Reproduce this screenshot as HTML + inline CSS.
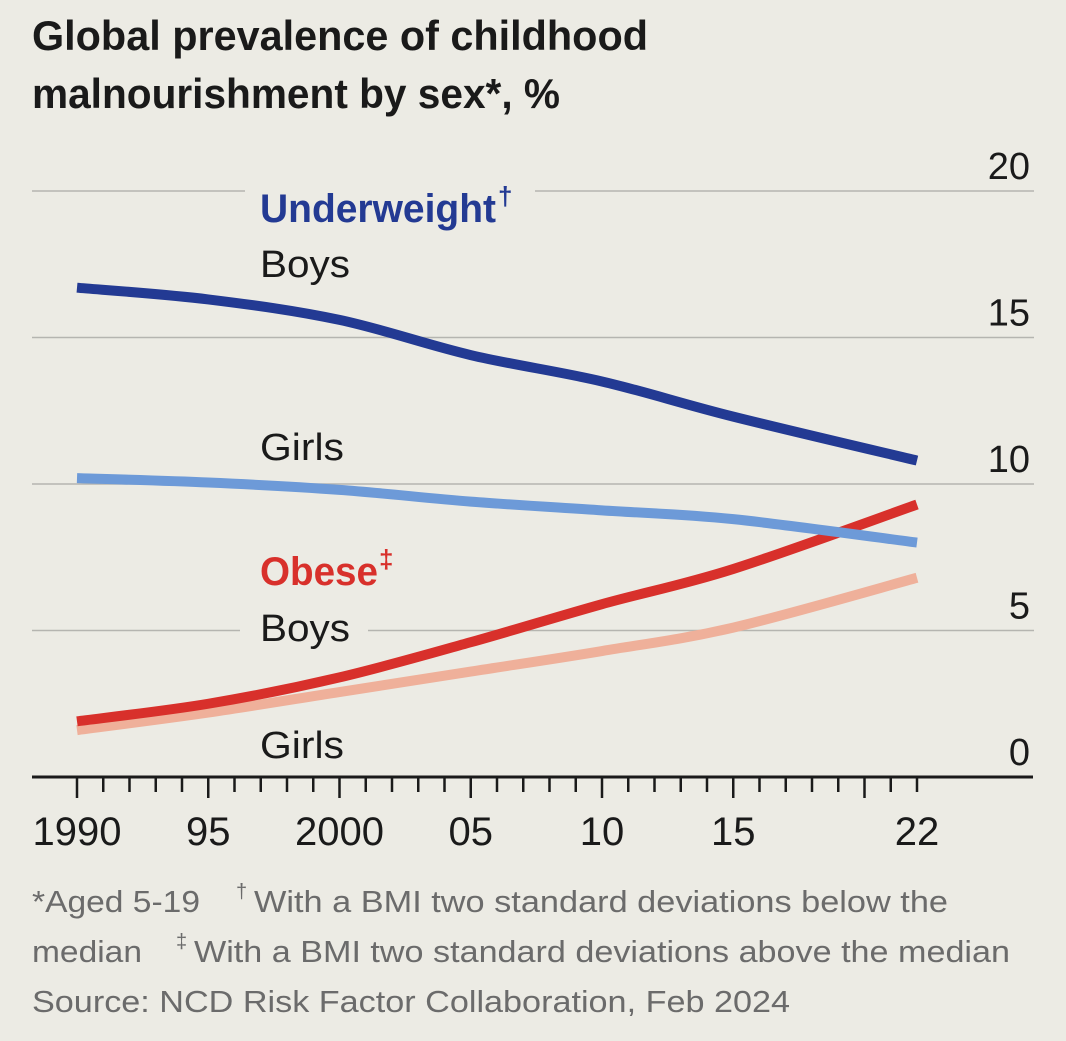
<!DOCTYPE html>
<html><head><meta charset="utf-8"><style>
html,body{margin:0;padding:0;background:#ecebe4}
svg{display:block}
text{font-family:"Liberation Sans Narrow","Liberation Sans",sans-serif}
</style></head><body>
<svg id="chart" width="1066" height="1041" viewBox="0 0 1066 1041">
<rect width="1066" height="1041" fill="#ecebe4"/>
<text x="32" y="50" font-size="42" font-weight="bold" fill="#1a1a1a" textLength="616" lengthAdjust="spacingAndGlyphs">Global prevalence of childhood</text>
<text x="32" y="108" font-size="42" font-weight="bold" fill="#1a1a1a" textLength="528" lengthAdjust="spacingAndGlyphs">malnourishment by sex*, %</text>
<g id="grid"></g>
<g id="xaxis"></g>
<g id="lines"></g>
<g id="labels">
<rect x="245" y="175" width="290" height="30" fill="#ecebe4"/>
<rect x="240" y="610" width="128" height="40" fill="#ecebe4"/>
<text x="260" y="222" font-size="40" font-weight="bold" fill="#233a93" textLength="236" lengthAdjust="spacingAndGlyphs">Underweight</text>
<text x="498" y="205" font-size="26" font-weight="bold" fill="#233a93">†</text>
<text x="260" y="277" font-size="38" fill="#1a1a1a" textLength="90" lengthAdjust="spacingAndGlyphs">Boys</text>
<text x="260" y="460" font-size="38" fill="#1a1a1a" textLength="84" lengthAdjust="spacingAndGlyphs">Girls</text>
<text x="260" y="585" font-size="40" font-weight="bold" fill="#d8302b" textLength="118" lengthAdjust="spacingAndGlyphs">Obese</text>
<text x="379" y="568" font-size="26" font-weight="bold" fill="#d8302b">‡</text>
<text x="260" y="641" font-size="38" fill="#1a1a1a" textLength="90" lengthAdjust="spacingAndGlyphs">Boys</text>
<text x="260" y="758" font-size="38" fill="#1a1a1a" textLength="84" lengthAdjust="spacingAndGlyphs">Girls</text>
</g>
<g fill="#6b6b6b" font-size="31">
<text x="32" y="912" textLength="168" lengthAdjust="spacingAndGlyphs">*Aged 5-19</text>
<text x="236" y="898" font-size="20">†</text>
<text x="254" y="912" textLength="694" lengthAdjust="spacingAndGlyphs">With a BMI two standard deviations below the</text>
<text x="32" y="962" textLength="110" lengthAdjust="spacingAndGlyphs">median</text>
<text x="176" y="948" font-size="20">‡</text>
<text x="194" y="962" textLength="816" lengthAdjust="spacingAndGlyphs">With a BMI two standard deviations above the median</text>
<text x="32" y="1012" textLength="758" lengthAdjust="spacingAndGlyphs">Source: NCD Risk Factor Collaboration, Feb 2024</text>
</g>
</svg>
<script>
const years=[1990,1995,2000,2005,2010,2015,2022];
const uwBoys=[16.7,16.3,15.6,14.4,13.5,12.3,10.8];
const uwGirls=[10.2,10.05,9.8,9.4,9.1,8.8,8.0];
const obBoys=[1.9,2.5,3.4,4.6,5.9,7.1,9.3];
const obGirls=[1.6,2.2,2.9,3.6,4.3,5.1,6.8];
const yTicks=[0,5,10,15,20];
const xTickLabels=["1990","95","2000","05","10","15","22"];
const xTickYears=[1990,1995,2000,2005,2010,2015,2022];
const NS="http://www.w3.org/2000/svg";
const X=y=>77+(y-1990)*26.25;
const Y=v=>777-v*29.3;
function mk(tag,attrs,parent){const e=document.createElementNS(NS,tag);for(const k in attrs)e.setAttribute(k,attrs[k]);parent.appendChild(e);return e;}
const grid=document.getElementById('grid');
yTicks.forEach(t=>{
  if(t>0){const l=mk('line',{x1:32,x2:1034,y1:Y(t),y2:Y(t),stroke:'#b5b5b0','stroke-width':1.5},grid);
  
  }
  const tx=mk('text',{x:1030,y:Y(t)-12,'text-anchor':'end','font-size':38,fill:'#1a1a1a'},grid);
  tx.textContent=t;
  
  
});
const xa=document.getElementById('xaxis');
for(let yr=1990;yr<=2022;yr++){
  const major=yr%5===0;
  const tk=mk('line',{x1:X(yr),x2:X(yr),y1:777,y2:major?798:792,stroke:'#1a1a1a','stroke-width':2.5},xa);
  
  
}
const ax=mk('line',{x1:32,x2:1033,y1:777,y2:777,stroke:'#1a1a1a','stroke-width':3},xa);


xTickYears.forEach((yr,i)=>{
  const tx=mk('text',{x:X(yr),y:845,'text-anchor':'middle','font-size':40,fill:'#1a1a1a'},xa);
  tx.textContent=xTickLabels[i];
  
  
});
function smooth(pts){let d='M'+pts[0][0]+','+pts[0][1];
  for(let i=0;i<pts.length-1;i++){const p0=pts[i-1]||pts[i],p1=pts[i],p2=pts[i+1],p3=pts[i+2]||p2;
    const c1=[p1[0]+(p2[0]-p0[0])/6,p1[1]+(p2[1]-p0[1])/6],c2=[p2[0]-(p3[0]-p1[0])/6,p2[1]-(p3[1]-p1[1])/6];
    d+=' C'+c1+' '+c2+' '+p2;}
  return d;}
const lines=document.getElementById('lines');
[[obGirls,'#efb09a','obese-girls-line'],[obBoys,'#d8302b','obese-boys-line'],[uwGirls,'#6d9ad8','underweight-girls-line'],[uwBoys,'#233a93','underweight-boys-line']].forEach(s=>{
  const p=mk('path',{d:smooth(years.map((y,i)=>[X(y),Y(s[0][i])])),fill:'none',stroke:s[1],'stroke-width':10,'stroke-linecap':'butt'},lines);
  
  
});
</script>
</body></html>
